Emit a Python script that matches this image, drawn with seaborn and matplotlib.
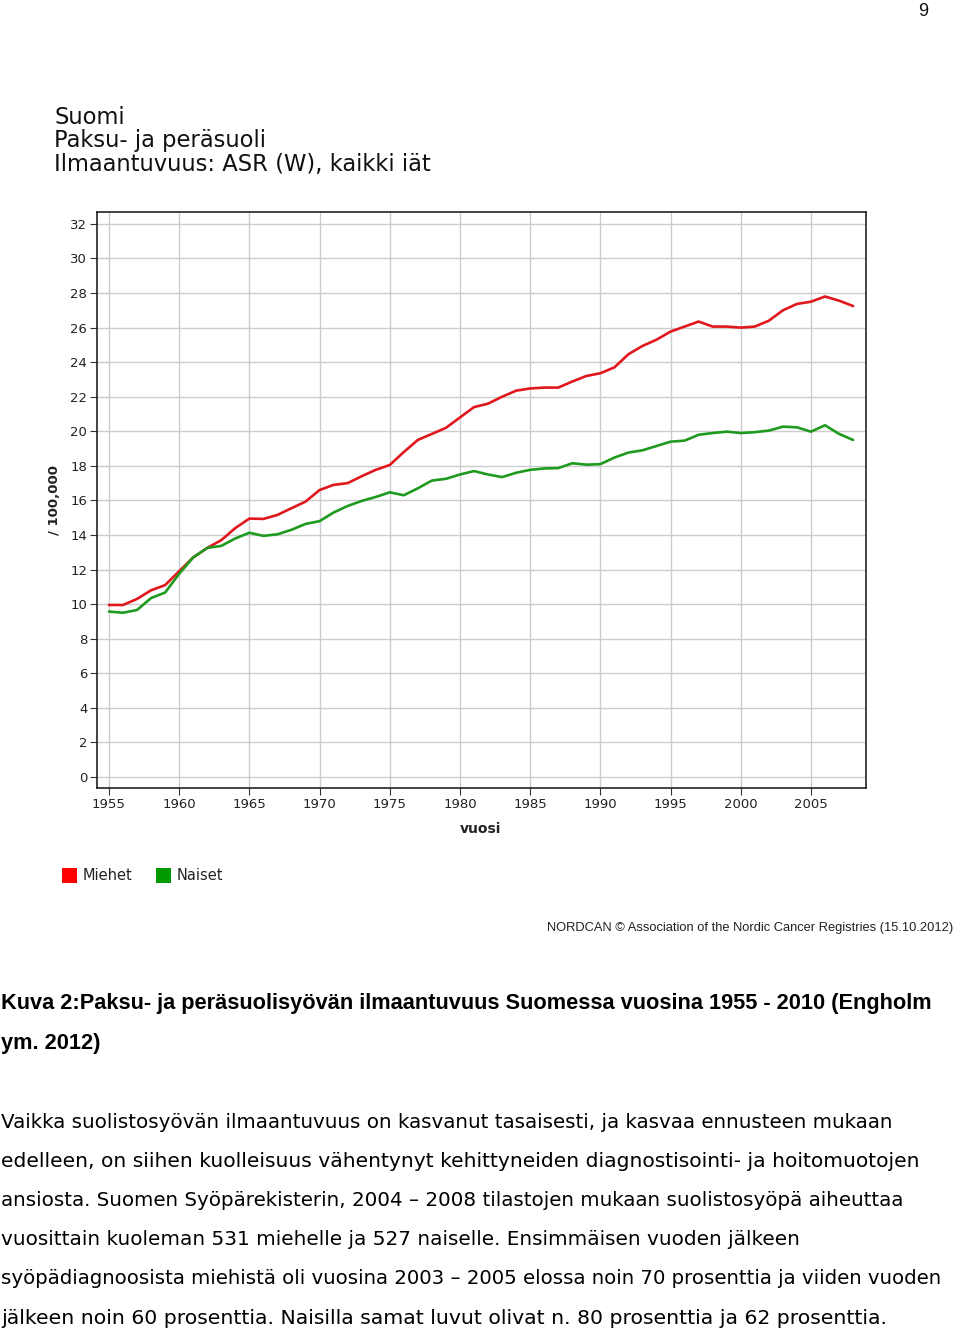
import matplotlib
matplotlib.use("Agg")
import matplotlib.pyplot as plt
import seaborn as sns
import pandas as pd
import numpy as np
from matplotlib.patches import Rectangle

years = list(range(1955, 2009))
miehet = [9.95, 9.95, 10.3, 10.8, 11.1, 11.9, 12.7, 13.25, 13.7, 14.4,
          14.95, 14.93, 15.16, 15.55, 15.93, 16.6, 16.9, 17.0, 17.4, 17.77,
          18.05, 18.8, 19.5, 19.85, 20.2, 20.8, 21.4, 21.6, 22.0, 22.35,
          22.48, 22.53, 22.53, 22.88, 23.2, 23.36, 23.7, 24.46, 24.94, 25.3,
          25.77, 26.06, 26.35, 26.06, 26.06, 26.0, 26.06, 26.4, 27.0, 27.37,
          27.5, 27.8, 27.56, 27.25]
naiset = [9.57, 9.5, 9.66, 10.35, 10.67, 11.75, 12.7, 13.25, 13.37, 13.8,
          14.13, 13.95, 14.04, 14.3, 14.64, 14.8, 15.3, 15.68, 15.97, 16.2,
          16.47, 16.3, 16.7, 17.15, 17.25, 17.5, 17.7, 17.5, 17.35, 17.6,
          17.77, 17.85, 17.87, 18.15, 18.07, 18.1, 18.48, 18.77, 18.9, 19.15,
          19.4, 19.46, 19.8, 19.9, 19.98, 19.9, 19.95, 20.04, 20.27, 20.23,
          19.98, 20.35, 19.85, 19.5]
series_names = ["Miehet", "Naiset"]
line_colors = ["#e0181e", "#1e9a1e"]
legend_colors = ["#ff0000", "#009900"]
yticks = list(range(0, 33, 2))
xticks = list(range(1955, 2006, 5))

title_lines = ["Suomi", "Paksu- ja peräsuoli", "Ilmaantuvuus: ASR (W), kaikki iät"]
caption_lines = ["Kuva 2:Paksu- ja peräsuolisyövän ilmaantuvuus Suomessa vuosina 1955 - 2010 (Engholm",
                 "ym. 2012)"]
para_lines = [
    "Vaikka suolistosyövän ilmaantuvuus on kasvanut tasaisesti, ja kasvaa ennusteen mukaan",
    "edelleen, on siihen kuolleisuus vähentynyt kehittyneiden diagnostisointi- ja hoitomuotojen",
    "ansiosta. Suomen Syöpärekisterin, 2004 – 2008 tilastojen mukaan suolistosyöpä aiheuttaa",
    "vuosittain kuoleman 531 miehelle ja 527 naiselle. Ensimmäisen vuoden jälkeen",
    "syöpädiagnoosista miehistä oli vuosina 2003 – 2005 elossa noin 70 prosenttia ja viiden vuoden",
    "jälkeen noin 60 prosenttia. Naisilla samat luvut olivat n. 80 prosenttia ja 62 prosenttia.",
]

df = pd.DataFrame({
    "vuosi": years * 2,
    "arvo": miehet + naiset,
    "sukupuoli": [series_names[0]] * len(years) + [series_names[1]] * len(years),
})

sns.set_theme(style="white")
plt.rcParams["font.family"] = ["DejaVu Sans"]

W, H = 960, 1334
fig = plt.figure(figsize=(W / 100, H / 100), dpi=100)

def fx(px):
    return px / W

def fy(py):
    return 1 - py / H

ax = fig.add_axes([fx(97), fy(788), fx(866) - fx(97), fy(212) - fy(788)])
sns.lineplot(data=df, x="vuosi", y="arvo", hue="sukupuoli", palette=line_colors,
             linewidth=1.9, ax=ax, legend=False)
ax.set_xlim(1954.15, 2008.92)
ax.set_ylim(-0.64, 32.69)
ax.set_xticks(xticks)
ax.set_yticks(yticks)
ax.grid(True, color="#cccccc", linewidth=1.0)
ax.set_axisbelow(True)
for s in ax.spines.values():
    s.set_color("#222222")
    s.set_linewidth(1.2)
ax.tick_params(axis="both", direction="out", length=5, width=0.8, color="#333333",
               labelsize=9.5, labelcolor="#222222", pad=2)
ax.tick_params(axis="x", bottom=True)
ax.tick_params(axis="y", left=True)
ax.set_xlabel("")
ax.set_ylabel("")

fig.text(fx(480), fy(829), "vuosi", ha="center", va="center", fontsize=10,
         fontweight="bold", color="#222222")
fig.text(fx(55), fy(500), "/ 100,000", ha="center", va="center", fontsize=9.5,
         fontweight="bold", rotation=90, color="#222222")

for i, t in enumerate(title_lines):
    fig.text(fx(54), fy(117 + 24 * i), t, ha="left", va="center", fontsize=16.3,
             color="#111111")

# legend
for px, name, col in zip([62, 156], series_names, legend_colors):
    fig.patches.append(Rectangle((fx(px), fy(883)), fx(15), fy(868) - fy(883),
                                 transform=fig.transFigure, facecolor=col,
                                 edgecolor="none"))
    fig.text(fx(px + 21), fy(876), name, ha="left", va="center", fontsize=10.5,
             color="#222222")

fig.text(fx(547), fy(928), "NORDCAN © Association of the Nordic Cancer Registries (15.10.2012)",
         ha="left", va="center", fontsize=9.3, color="#222222",
         family=["Liberation Sans", "DejaVu Sans"])

fig.text(fx(923), fy(11), "9", ha="center", va="center", fontsize=13, color="#111111",
         family=["Liberation Sans", "DejaVu Sans"])

fig.canvas.draw()
renderer = fig.canvas.get_renderer()

# caption (bold, narrow)
cap_objs = []
for i, t in enumerate(caption_lines):
    cap_objs.append(fig.text(fx(1), fy(1003 + 40 * i), t, ha="left", va="center",
                             fontsize=14, fontweight="bold", color="#000000",
                             family=["Liberation Sans Narrow", "Liberation Sans", "DejaVu Sans"]))
fig.canvas.draw()
w0 = cap_objs[0].get_window_extent(renderer).width
scale = 933 / w0
for o in cap_objs:
    o.set_fontsize(14 * scale)

para_targets = [893, 921, 904, 801, 946, 886]
para_objs = []
for i, t in enumerate(para_lines):
    para_objs.append(fig.text(fx(1), fy(1122 + 39.2 * i), t, ha="left", va="center",
                              fontsize=14, color="#000000"))
fig.canvas.draw()
for o, tw in zip(para_objs, para_targets):
    r = tw / o.get_window_extent(renderer).width
    o.set_fontsize(14 * r)

fig.savefig("out.png", dpi=100)
